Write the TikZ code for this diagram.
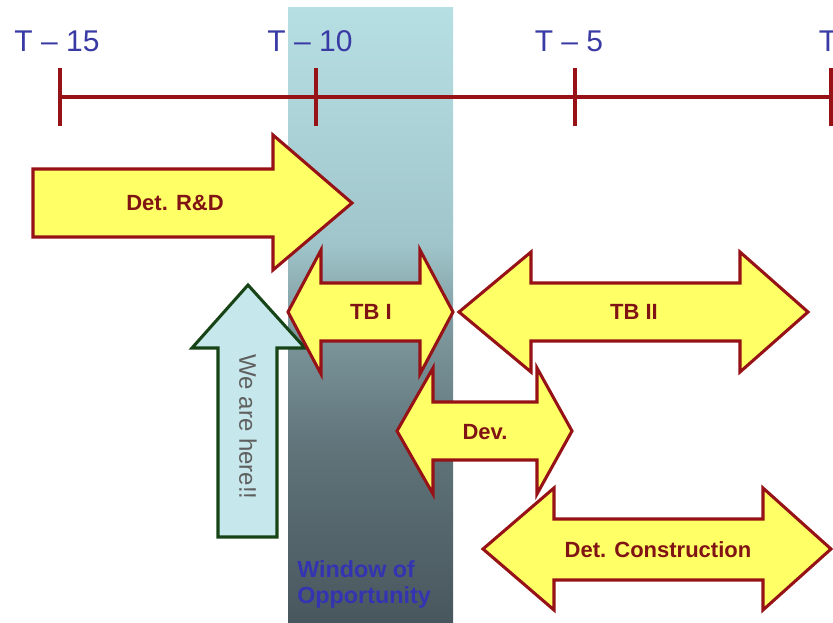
\documentclass[tikz,border=0pt]{standalone}
\usepackage{fontspec}
\setmainfont{Liberation Sans}
\definecolor{dred}{RGB}{150,18,22}
\definecolor{arrowfill}{RGB}{255,255,102}
\definecolor{txtred}{RGB}{128,20,20}
\definecolor{tlblue}{RGB}{58,58,165}
\definecolor{wblue}{RGB}{52,52,178}
\definecolor{hgreen}{RGB}{22,68,22}
\definecolor{hfill}{RGB}{198,231,235}
\definecolor{htext}{RGB}{95,95,95}
\definecolor{wsa}{RGB}{72,87,93}
\definecolor{wsb}{RGB}{95,115,121}
\definecolor{wsc}{RGB}{125,152,158}
\definecolor{wsd}{RGB}{160,198,203}
\definecolor{wse}{RGB}{182,223,228}
\pgfdeclareverticalshading{winshade}{100bp}{color(0bp)=(wsa); color(25bp)=(wsa); color(39bp)=(wsb); color(49bp)=(wsc); color(56bp)=(wsd); color(75bp)=(wse); color(100bp)=(wse)}
\tikzset{
  blk/.style={draw=dred, fill=arrowfill, line width=2.3pt, line join=miter},
  here/.style={draw=hgreen, fill=hfill, line width=2.3pt, line join=miter},
  tline/.style={draw=dred, line width=2.3pt},
  lbl/.style={text=txtred, font=\fontsize{16.5}{19}\selectfont\bfseries, inner sep=0pt},
  tlbl/.style={text=tlblue, font=\fontsize{22.5}{26}\selectfont, inner sep=0pt, anchor=base},
}
\begin{document}
\begin{tikzpicture}[x=0.75pt,y=-0.75pt]
\useasboundingbox[fill=white] (0,0) rectangle (833,623);
% window of opportunity
\path[shading=winshade] (288,8) rectangle (453,623);
% timeline
\coordinate (t15) at (60,97);
\coordinate (t10) at (316,97);
\coordinate (t5) at (575,97);
\coordinate (t0) at (831,97);
\draw[tline] (t15) -- (t0);
\foreach \c in {t15,t10,t5,t0}{
  \draw[tline] ([yshift=-29*0.75pt]\c) -- ([yshift=29*0.75pt]\c);
}
\node[tlbl] (l15) at (57,52) {T – 15};
\node[tlbl] (l10) at (310,52) {T – 10};
\node[tlbl] (l5) at (569,52) {T – 5};
\node[tlbl] (l0) at (828,52) {T};
% Det. R&D
\draw[blk] (33,169) -- (273,169) -- (273,135) -- (352,203) -- (273,270) -- (273,237) -- (33,237) -- cycle;
\node[lbl] (rd) at (175,203) {Det. R\&D};
% We are here
\draw[here] (248,285) -- (305,348) -- (277,348) -- (277,537) -- (218,537) -- (218,348) -- (192,348) -- cycle;
\node[text=htext, font=\fontsize{18}{20}\selectfont, rotate=-90, inner sep=0pt] (wah) at (248,427) {We are here!!};
% TB I
\draw[blk] (288,312) -- (321,250) -- (321,283) -- (420,283) -- (420,250) -- (453,312) -- (420,374) -- (420,341) -- (321,341) -- (321,374) -- cycle;
\node[lbl] (tb1) at (371,312) {TB I};
% TB II
\draw[blk] (459,312) -- (531,252) -- (531,283) -- (740,283) -- (740,252) -- (808,312) -- (740,372) -- (740,341) -- (531,341) -- (531,372) -- cycle;
\node[lbl] (tb2) at (634,312) {TB II};
% Dev.
\draw[blk] (397,431) -- (433,368) -- (433,402) -- (537,402) -- (537,368) -- (572,431) -- (537,494) -- (537,460) -- (433,460) -- (433,494) -- cycle;
\node[lbl] (dev) at (485,432) {Dev.};
% Det. Construction
\draw[blk] (483,549) -- (554,488) -- (554,519) -- (763,519) -- (763,488) -- (831,549) -- (763,610) -- (763,580) -- (554,580) -- (554,610) -- cycle;
\node[lbl] (dc) at (658,550) {Det. Construction};
% window label
\node[text=wblue, font=\fontsize{17.5}{19.5}\selectfont\bfseries, align=left, anchor=base west, inner sep=0pt] (win) at (297,604) {Window of\\Opportunity};
\end{tikzpicture}
\end{document}
